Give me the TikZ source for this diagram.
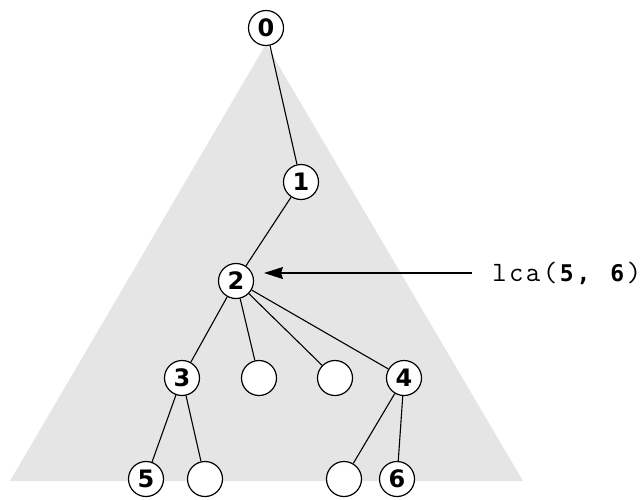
\documentclass[tikz,border=0pt]{standalone}
\usepackage{fontspec}
\newfontfamily\digitfont{DejaVu Sans}
\newfontfamily\codebold{DejaVu Sans Mono}
\usetikzlibrary{arrows.meta}
\definecolor{treegray}{gray}{0.9}
% one fixed-width cell per character of the call label
\newcommand{\cell}[1]{\makebox[16.8pt][c]{#1}}
\newcommand{\bcell}[1]{\makebox[16.8pt][c]{\codebold\bfseries\fontsize{23}{23}\selectfont #1}}
\tikzset{
  vert/.style={circle, draw, fill=white, line width=1.2pt, minimum size=35pt,
    inner sep=0pt, font=\digitfont\bfseries\fontsize{24}{24}\selectfont},
  edge/.style={line width=1.1pt},
  pointer/.style={line width=1.1pt, -{Stealth[length=19pt, width=12pt, inset=2pt]}},
}
\begin{document}
\begin{tikzpicture}[x=1pt, y=-1pt]
  \useasboundingbox (0,0) rectangle (644,499);
  % subtree rooted at 0
  \fill[treegray] (266,44) -- (10,481) -- (523,481) -- cycle;

  \node[vert] (n0) at (266,28) {0};
  \node[vert] (n1) at (301,182) {1};
  \node[vert] (n2) at (236,281) {2};
  \node[vert] (n3) at (182,378) {3};
  \node[vert] (a1) at (259,378) {};
  \node[vert] (a2) at (335,378) {};
  \node[vert] (n4) at (404,378) {4};
  \node[vert] (n5) at (146,479) {5};
  \node[vert] (a3) at (205,479) {};
  \node[vert] (a4) at (344,479) {};
  \node[vert] (n6) at (397,479) {6};

  \draw[edge] (n0) -- (n1);
  \draw[edge] (n1) -- (n2);
  \draw[edge] (n2) -- (n3);
  \draw[edge] (n2) -- (a1);
  \draw[edge] (n2) -- (a2);
  \draw[edge] (n2) -- (n4);
  \draw[edge] (n3) -- (n5);
  \draw[edge] (n3) -- (a3);
  \draw[edge] (n4) -- (a4);
  \draw[edge] (n4) -- (n6);

  \node[anchor=west, inner sep=0pt, font=\ttfamily\fontsize{28}{28}\selectfont]
    (lbl) at (491,273)
    {\cell{l}\cell{c}\cell{a}\cell{(}\bcell{5}\bcell{,}\bcell{}\bcell{6}\cell{)}};
  \coordinate (tail) at (472,273);
  \coordinate (head) at (264,273);
  \draw[pointer] (tail) -- (head);
\end{tikzpicture}
\end{document}
